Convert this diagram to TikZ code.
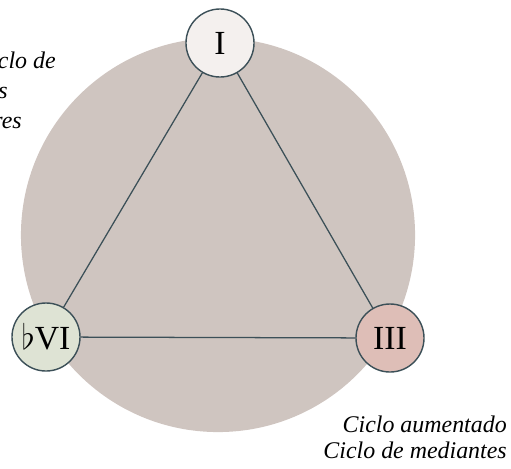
\documentclass[tikz,border=0pt]{standalone}
\usepackage{fontspec}
\setmainfont{Liberation Serif}
\usetikzlibrary{positioning}

\definecolor{disk}{RGB}{207,197,192}
\definecolor{edge}{RGB}{60,80,88}
\definecolor{tonI}{RGB}{244,240,238}
\definecolor{tonIII}{RGB}{222,190,183}
\definecolor{tonVI}{RGB}{222,227,212}

\begin{document}
\begin{tikzpicture}[x=0.025cm,y=-0.025cm,
    key/.style={circle,draw=edge,line width=1pt,minimum size=1.7cm,inner sep=0pt,font=\fontsize{24}{24}\selectfont},
    chord/.style={draw=edge,line width=0.9pt},
    note/.style={inner sep=0pt,font=\fontsize{17}{18}\selectfont\itshape}]
    \useasboundingbox (0,0) rectangle (511,468);
    \fill[disk] (218,235) circle[radius=4.925cm];
    \node[key,fill=tonI] (one) at (220,43) {I};
    \node[key,fill=tonIII] (three) at (390,338) {III};
    \node[key,fill=tonVI] (six) at (46,337) {$\flat$VI};
    \draw[chord] (one)--(three);
    \draw[chord] (three)--(six);
    \draw[chord] (six)--(one);
    % partly cut-off label
    \node[note,anchor=base east] (t1) at (56,68) {clo de};
    \node[note,anchor=base east] (t2) at (8,98) {s};
    \node[note,anchor=base east] (t3) at (22,128) {res};
    \node[note,anchor=base east,align=right] (t4) at (507,458) {Ciclo aumentado\\Ciclo de mediantes};
\end{tikzpicture}
\end{document}
